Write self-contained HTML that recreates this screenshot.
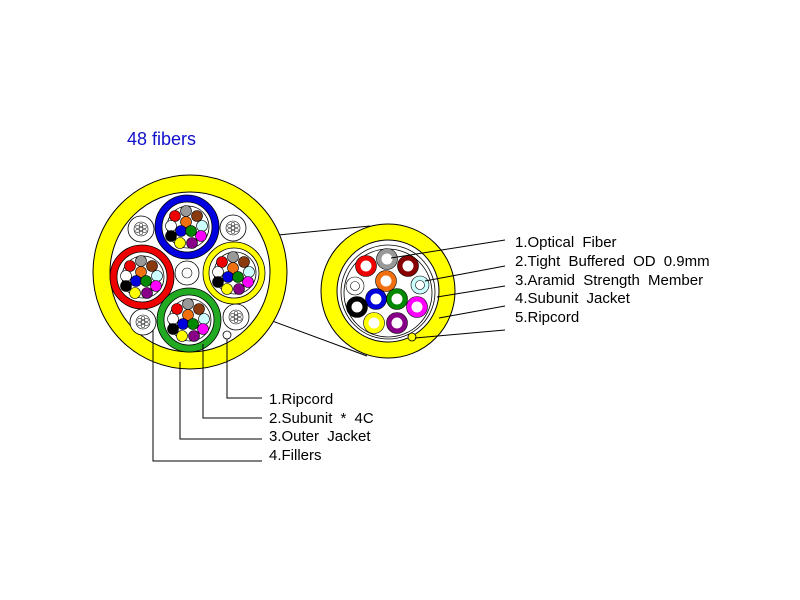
<!DOCTYPE html>
<html><head><meta charset="utf-8"><style>html,body{margin:0;padding:0;background:#fff}svg{display:block}</style></head>
<body>
<svg width="800" height="600" viewBox="0 0 800 600" xmlns="http://www.w3.org/2000/svg" font-family="Liberation Sans, Arial, sans-serif">
<defs>
<g id="fb">
<circle r="21" fill="#fff" stroke="#000" stroke-width="0.8"/>
<g stroke="#000" stroke-width="0.6">
<circle cx="-2" cy="-16" r="5.5" fill="#999"/>
<circle cx="-13" cy="-11" r="5.5" fill="#e00"/>
<circle cx="9" cy="-11" r="5.5" fill="#8b3a10"/>
<circle cx="-17" cy="-1" r="5.5" fill="#fff"/>
<circle cx="-2" cy="-5" r="5.5" fill="#f07010"/>
<circle cx="14" cy="-1" r="5.5" fill="#cff"/>
<circle cx="-17" cy="9" r="5.5" fill="#000"/>
<circle cx="-7" cy="4" r="5.5" fill="#00d"/>
<circle cx="3" cy="4" r="5.5" fill="#080"/>
<circle cx="13" cy="9" r="5.5" fill="#f0f"/>
<circle cx="-8" cy="16" r="5.5" fill="#ff0"/>
<circle cx="4" cy="16" r="5.5" fill="#808"/>
</g>
</g>
<g id="fil">
<circle r="13" fill="#fff" stroke="#000" stroke-width="0.8"/>
<circle r="7" fill="#fff" stroke="#000" stroke-width="0.6"/>
<g fill="#fff" stroke="#000" stroke-width="0.5">
<circle cx="0" cy="-4" r="1.8"/><circle cx="3.5" cy="-2" r="1.8"/><circle cx="3.5" cy="2" r="1.8"/>
<circle cx="0" cy="4" r="1.8"/><circle cx="-3.5" cy="2" r="1.8"/><circle cx="-3.5" cy="-2" r="1.8"/><circle cx="0" cy="0" r="1.8"/>
</g>
</g>
</defs>

<text x="127" y="145" font-size="18" fill="#1010c8">48 fibers</text>

<line x1="237" y1="239" x2="370" y2="226" stroke="#000" stroke-width="1"/>
<line x1="237" y1="308" x2="367" y2="356" stroke="#000" stroke-width="1"/>

<circle cx="190" cy="272" r="97" fill="#ff0" stroke="#000" stroke-width="1"/>
<circle cx="190" cy="272" r="80" fill="#fff" stroke="#000" stroke-width="1"/>
<use href="#fil" x="141" y="229"/>
<use href="#fil" x="233" y="228"/>
<use href="#fil" x="143" y="322"/>
<use href="#fil" x="236" y="317"/>
<circle cx="187" cy="273" r="12" fill="#fff" stroke="#000" stroke-width="0.8"/>
<circle cx="187" cy="273" r="5" fill="#fff" stroke="#000" stroke-width="0.6"/>
<circle cx="227" cy="335" r="4" fill="#fff" stroke="#000" stroke-width="0.8"/>

<circle cx="187" cy="227" r="28.5" fill="#fff" stroke="#0000e0" stroke-width="7"/>
<circle cx="187" cy="227" r="32" fill="none" stroke="#000" stroke-width="0.8"/>
<circle cx="187" cy="227" r="25" fill="none" stroke="#000" stroke-width="0.8"/>
<use href="#fb" x="188" y="227"/>

<circle cx="142" cy="277" r="28.5" fill="#fff" stroke="#e00" stroke-width="7"/>
<circle cx="142" cy="277" r="32" fill="none" stroke="#000" stroke-width="0.8"/>
<circle cx="142" cy="277" r="25" fill="none" stroke="#000" stroke-width="0.8"/>
<use href="#fb" x="143" y="277"/>

<circle cx="234" cy="273" r="28" fill="#fff" stroke="#ff0" stroke-width="6"/>
<circle cx="234" cy="273" r="31" fill="none" stroke="#000" stroke-width="0.8"/>
<circle cx="234" cy="273" r="25" fill="none" stroke="#000" stroke-width="0.8"/>
<use href="#fb" x="235" y="273"/>

<circle cx="189" cy="320" r="28.5" fill="#fff" stroke="#2a2" stroke-width="7"/>
<circle cx="189" cy="320" r="32" fill="none" stroke="#000" stroke-width="0.8"/>
<circle cx="189" cy="320" r="25" fill="none" stroke="#000" stroke-width="0.8"/>
<use href="#fb" x="190" y="320"/>

<g stroke="#000" stroke-width="1" fill="none">
<polyline points="227,339 227,398 262,398"/>
<polyline points="203,344 203,418 262,418"/>
<polyline points="180,362 180,439 262,439"/>
<polyline points="153,330 153,461 262,461"/>
</g>
<g font-size="15" fill="#000" word-spacing="4">
<text x="269" y="404">1.Ripcord</text>
<text x="269" y="423">2.Subunit * 4C</text>
<text x="269" y="441">3.Outer Jacket</text>
<text x="269" y="460">4.Fillers</text>
</g>

<circle cx="388" cy="291" r="67" fill="#ff0" stroke="#000" stroke-width="1"/>
<circle cx="388" cy="291" r="51" fill="#fff" stroke="#000" stroke-width="1"/>
<circle cx="388" cy="292" r="47" fill="none" stroke="#000" stroke-width="0.8"/>
<circle cx="388" cy="293" r="44" fill="none" stroke="#000" stroke-width="0.8"/>
<circle cx="412" cy="337" r="4" fill="#ff0" stroke="#000" stroke-width="0.8"/>
<g stroke="#000" stroke-width="0.6">
<circle cx="387" cy="259" r="8" fill="#fff" stroke="#999" stroke-width="5"/>
<circle cx="366" cy="266" r="8" fill="#fff" stroke="#e00" stroke-width="5"/>
<circle cx="408" cy="266" r="8" fill="#fff" stroke="#800" stroke-width="5"/>
<circle cx="355" cy="286" r="9" fill="#fff" stroke="#000" stroke-width="0.6"/>
<circle cx="355" cy="286" r="4.5" fill="#fff" stroke="#000" stroke-width="0.6"/>
<circle cx="386" cy="281" r="8" fill="#fff" stroke="#f07010" stroke-width="5"/>
<circle cx="420" cy="285" r="9" fill="#cff" stroke="#000" stroke-width="0.6"/>
<circle cx="420" cy="285" r="4.5" fill="#fff" stroke="#000" stroke-width="0.6"/>
<circle cx="357" cy="307" r="8" fill="#fff" stroke="#000" stroke-width="5"/>
<circle cx="376" cy="299" r="8" fill="#fff" stroke="#00d" stroke-width="5"/>
<circle cx="397" cy="299" r="8" fill="#fff" stroke="#080" stroke-width="5"/>
<circle cx="417" cy="307" r="8" fill="#fff" stroke="#f0f" stroke-width="5"/>
<circle cx="374" cy="323" r="8" fill="#fff" stroke="#ff0" stroke-width="5"/>
<circle cx="397" cy="323" r="8" fill="#fff" stroke="#808" stroke-width="5"/>
</g>
<g fill="none" stroke="#000" stroke-width="0.6">
<circle cx="387" cy="259" r="10.5"/><circle cx="366" cy="266" r="10.5"/><circle cx="408" cy="266" r="10.5"/>
<circle cx="386" cy="281" r="10.5"/><circle cx="357" cy="307" r="10.5"/><circle cx="376" cy="299" r="10.5"/>
<circle cx="397" cy="299" r="10.5"/><circle cx="417" cy="307" r="10.5"/><circle cx="374" cy="323" r="10.5"/>
<circle cx="397" cy="323" r="10.5"/>
</g>
<g stroke="#000" stroke-width="1">
<line x1="505" y1="240" x2="391" y2="258"/>
<line x1="505" y1="266" x2="425" y2="281"/>
<line x1="505" y1="286" x2="437" y2="297"/>
<line x1="505" y1="306" x2="439" y2="318"/>
<line x1="505" y1="330" x2="415" y2="338"/>
</g>
<g font-size="15" fill="#000" word-spacing="4">
<text x="515" y="247">1.Optical Fiber</text>
<text x="515" y="266">2.Tight Buffered OD 0.9mm</text>
<text x="515" y="285">3.Aramid Strength Member</text>
<text x="515" y="303">4.Subunit Jacket</text>
<text x="515" y="322">5.Ripcord</text>
</g>
</svg>
</body></html>
